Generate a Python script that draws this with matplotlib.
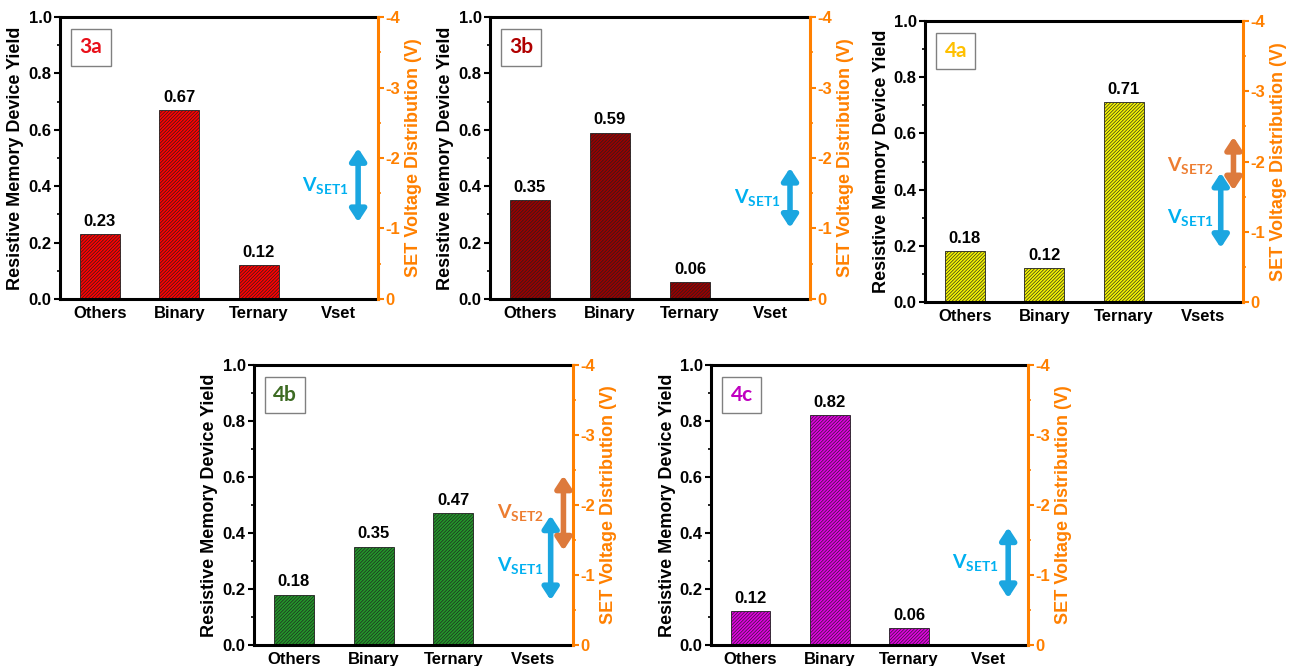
import matplotlib
matplotlib.use("Agg")
import matplotlib.pyplot as plt
from matplotlib.patches import ArrowStyle

plt.rcParams['font.family'] = ['Liberation Sans', 'DejaVu Sans']
plt.rcParams['font.weight'] = 'bold'
plt.rcParams['axes.unicode_minus'] = False
plt.rcParams['hatch.linewidth'] = 0.45
plt.rcParams['mathtext.fontset'] = 'custom'
plt.rcParams['mathtext.rm'] = 'Lato:bold'
plt.rcParams['mathtext.it'] = 'Lato:bold'
plt.rcParams['mathtext.bf'] = 'Lato:bold'

# ---------------- data ----------------
categories_vset = ["Others", "Binary", "Ternary", "Vset"]
categories_vsets = ["Others", "Binary", "Ternary", "Vsets"]

panel_names = ["3a", "3b", "4a", "4b", "4c"]

yield_3a = [0.23, 0.67, 0.12]
yield_3b = [0.35, 0.59, 0.06]
yield_4a = [0.18, 0.12, 0.71]
yield_4b = [0.18, 0.35, 0.47]
yield_4c = [0.12, 0.82, 0.06]

# SET voltage ranges (V) shown as double arrows (low, high)
vset1_3a = (-1.09, -2.14)
vset1_3b = (-1.01, -1.86)
vset1_4a = (-0.77, -1.84)
vset2_4a = (-1.59, -2.35)
vset1_4b = (-0.64, -1.85)
vset2_4b = (-1.35, -2.42)
vset1_4c = (-0.67, -1.68)

left_yticks = [0.0, 0.2, 0.4, 0.6, 0.8, 1.0]
right_yticks = [0, -1, -2, -3, -4]

# ---------------- styling ----------------
bar_colors = {"3a": "#ff0000", "3b": "#9a0000", "4a": "#f2f200", "4b": "#23962a", "4c": "#e000e0"}
label_colors = {"3a": "#e8101a", "3b": "#b00000", "4a": "#ffc000", "4b": "#3d6b23", "4c": "#c000c0"}
ORANGE = "#ff8000"
BLUE_ARROW = "#1ba6e0"
BLUE_TEXT = "#00b0f0"
ORANGE_ARROW = "#dd7a3c"
ORANGE_TEXT = "#ed7d31"

W, H = 1292, 666
# pixel boxes: left, top, right, bottom
boxes = {
    "3a": (60, 17, 378, 299),
    "3b": (490, 17, 810, 299),
    "4a": (925, 21, 1243, 302),
    "4b": (254, 365, 573, 645),
    "4c": (711, 365, 1028, 645),
}

yields = {"3a": yield_3a, "3b": yield_3b, "4a": yield_4a, "4b": yield_4b, "4c": yield_4c}
xcats = {"3a": categories_vset, "3b": categories_vset, "4a": categories_vsets,
         "4b": categories_vsets, "4c": categories_vset}
vset1 = {"3a": vset1_3a, "3b": vset1_3b, "4a": vset1_4a, "4b": vset1_4b, "4c": vset1_4c}
vset2 = {"4a": vset2_4a, "4b": vset2_4b}

fig = plt.figure(figsize=(W / 100, H / 100), dpi=100)


def arrow(ax, x, lo, hi, color):
    ax.annotate('', xy=(x, hi), xytext=(x, lo),
                arrowprops=dict(arrowstyle=ArrowStyle('<|-|>', head_length=0.55, head_width=0.36),
                                mutation_scale=13, color=color, lw=4.0,
                                shrinkA=0, shrinkB=0), zorder=5)


for name in panel_names:
    l, t, r, b = boxes[name]
    ax = fig.add_axes([l / W, 1 - b / H, (r - l) / W, (b - t) / H])
    vals = yields[name]
    cats = xcats[name]
    xs = list(range(len(cats)))
    ax.bar(xs[:3], vals, width=0.5, color=bar_colors[name], edgecolor="#202020",
           linewidth=0.6, hatch='//////////', zorder=2)
    for x, v in zip(xs[:3], vals):
        ax.annotate(f"{v:.2f}", xy=(x, v), xytext=(0, 4), textcoords='offset points',
                    ha='center', va='bottom', fontsize=12, fontweight='bold')
    ax.set_xlim(-0.5, 3.5)
    ax.set_ylim(0, 1.0)
    ax.set_xticks(xs)
    ax.set_xticklabels(cats, fontsize=12, fontweight='bold')
    ax.tick_params(axis='x', length=0, pad=5)
    ax.set_yticks(left_yticks)
    ax.set_yticklabels([f"{v:.1f}" for v in left_yticks], fontsize=12, fontweight='bold')
    ax.set_yticks([0.1, 0.3, 0.5, 0.7, 0.9], minor=True)
    ax.tick_params(axis='y', which='major', direction='out', length=4, width=1.5, pad=2)
    ax.tick_params(axis='y', which='minor', direction='out', length=2, width=1.2)
    ax.set_ylabel("Resistive Memory Device Yield", fontsize=13, fontweight='bold', labelpad=3)
    for s in ['left', 'top', 'bottom']:
        ax.spines[s].set_linewidth(2.2)
        ax.spines[s].set_color('black')
    ax.spines['right'].set_visible(False)

    ax2 = ax.twinx()
    ax2.set_ylim(0, -4)
    ax2.set_yticks(right_yticks)
    ax2.set_yticklabels([str(v) for v in right_yticks], fontsize=12, fontweight='bold', color=ORANGE)
    ax2.set_yticks([-0.5, -1.5, -2.5, -3.5], minor=True)
    ax2.tick_params(axis='y', which='major', direction='out', length=4, width=1.5, pad=1, colors=ORANGE)
    ax2.tick_params(axis='y', which='minor', direction='out', length=2, width=1.2, colors=ORANGE)
    ax2.spines['right'].set_color(ORANGE)
    ax2.spines['right'].set_linewidth(2.2)
    for s in ['left', 'top', 'bottom']:
        ax2.spines[s].set_visible(False)
    ax2.set_ylabel("SET Voltage Distribution (V)", fontsize=13, fontweight='bold',
                   color=ORANGE, labelpad=4)

    # label box
    ax.text(0.097, 0.893, name, transform=ax.transAxes, ha='center', va='center',
            fontsize=15, fontweight='bold', family='Lato', color=label_colors[name],
            bbox=dict(boxstyle='square,pad=0.4', fc='white', ec='#808080', lw=1.0), zorder=6)

    # arrows & labels
    if name in vset2:
        x1, x2, xt = 3.22, 3.38, 3.13
        lo1, hi1 = vset1[name]
        lo2, hi2 = vset2[name]
        arrow(ax2, x1, lo1, hi1, BLUE_ARROW)
        arrow(ax2, x2, lo2, hi2, ORANGE_ARROW)
        ax2.text(xt, hi1 + 0.55 * (lo1 - hi1) + 0.05, r"$\mathrm{V_{SET1}}$", ha='right', va='center',
                 fontsize=14, color=BLUE_TEXT)
        ax2.text(xt, hi2 + 0.4 * (lo2 - hi2) + 0.1, r"$\mathrm{V_{SET2}}$", ha='right', va='center',
                 fontsize=14, color=ORANGE_TEXT)
    else:
        lo1, hi1 = vset1[name]
        arrow(ax2, 3.25, lo1, hi1, BLUE_ARROW)
        ax2.text(3.13, (lo1 + hi1) / 2, r"$\mathrm{V_{SET1}}$", ha='right', va='center',
                 fontsize=14, color=BLUE_TEXT)

fig.savefig("out.png", dpi=100)
